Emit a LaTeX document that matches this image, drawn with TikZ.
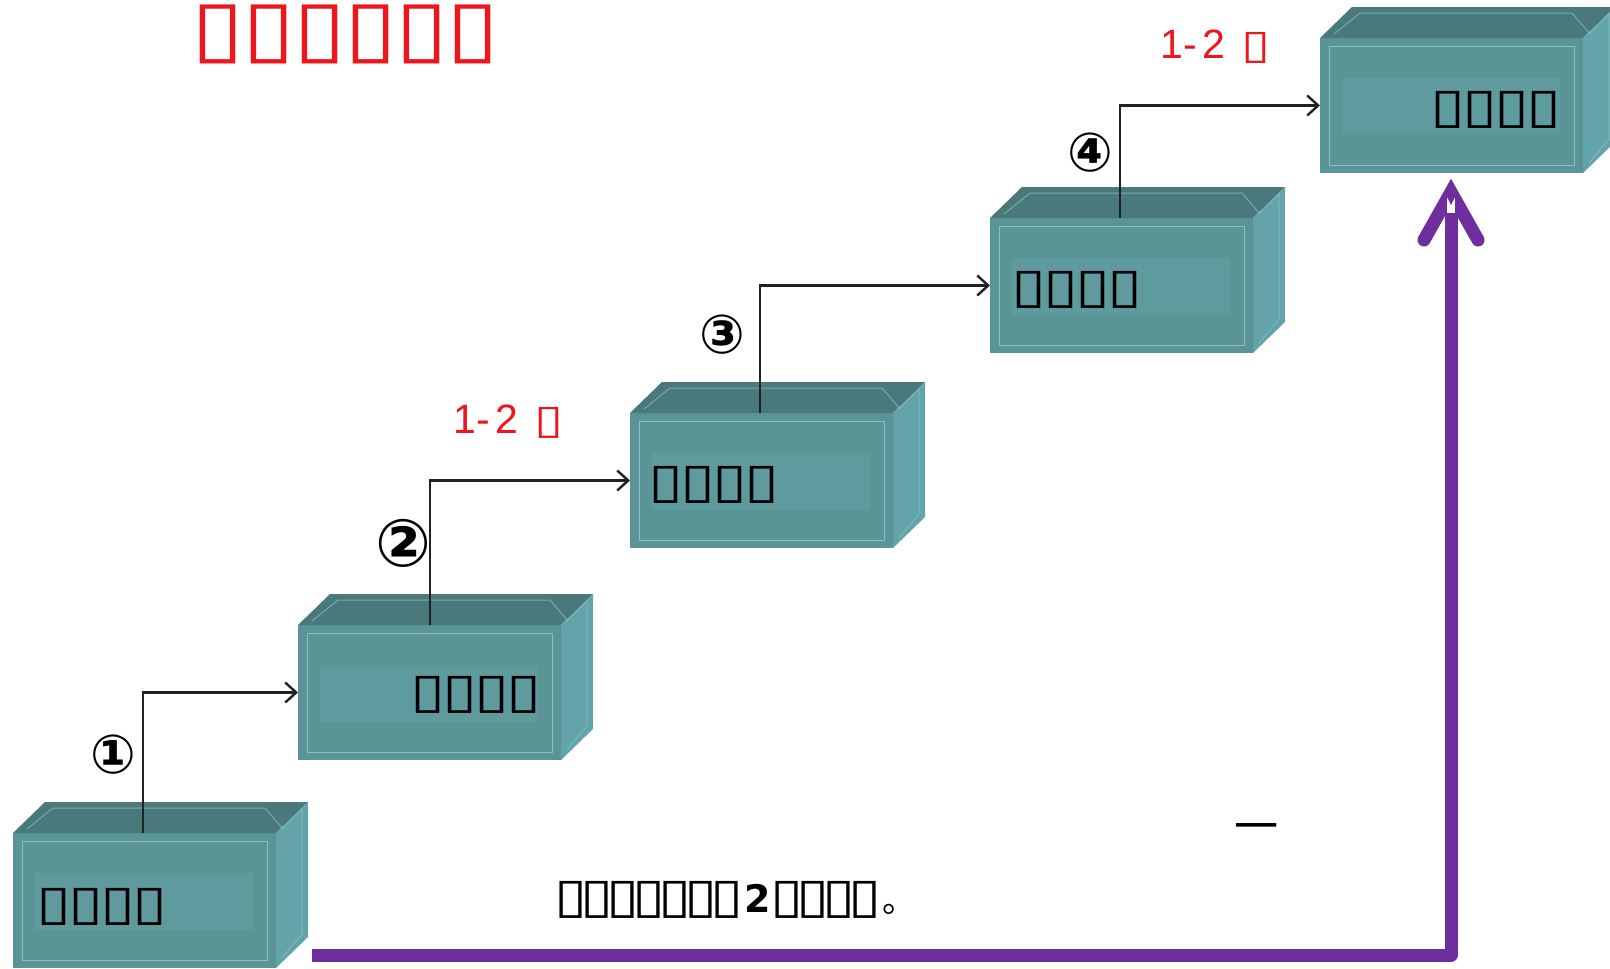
\documentclass[tikz,border=0pt]{standalone}
\usepackage{fontspec}
\setmainfont{Liberation Sans}
\newfontfamily\dvs{DejaVu Sans}
\newfontfamily\cjk{Noto Sans CJK SC}
\usetikzlibrary{arrows.meta,calc}
\definecolor{frontc}{RGB}{90,148,151}
\definecolor{topc}{RGB}{74,121,123}
\definecolor{sidec}{RGB}{98,164,169}
\definecolor{bevelc}{RGB}{135,192,195}
\definecolor{panelc}{RGB}{95,155,158}
\definecolor{purp}{RGB}{110,46,158}
\definecolor{redt}{RGB}{236,22,28}
\definecolor{linec}{RGB}{34,34,34}
% one missing-glyph box: pitch, width, total height
\newcommand\tf[3]{\makebox[#1]{\resizebox*{#2}{#3}{\dvs ▯}}}
\newcommand\lbox{\tf{32pt}{35pt}{37pt}}
\newcommand\tbox{\tf{51pt}{53pt}{59pt}}
\newcommand\nbox{\tf{26pt}{33pt}{37pt}}
\newcommand\rbox{\tf{22pt}{29pt}{31pt}}
\begin{document}
\begin{tikzpicture}[x=1pt,y=-1pt,
  front/.style={rectangle,anchor=north west,minimum width=263pt,minimum height=135pt,inner sep=0pt,outer sep=0pt,fill=frontc},
  lab/.style={anchor=west,inner sep=0pt,outer sep=0pt,text=black},
  conn/.style={draw=linec,line width=2.4pt,-{Straight Barb[length=11pt,width=20pt,line width=2.4pt]}},
  circnum/.style={inner sep=0pt,font=\dvs\bfseries\fontsize{54}{54}\selectfont},
  redlab/.style={anchor=west,inner sep=0pt,text=redt,font=\fontsize{41}{41}\selectfont},
  purpline/.style={draw=purp,line width=13pt}
]
\useasboundingbox (0,0) rectangle (1610,969);
\fill[white] (0,0) rectangle (1610,969);

% boxes (front faces)
\node[front] (b1) at (13,833) {};
\node[front] (b2) at (298,625) {};
\node[front] (b3) at (630,413) {};
\node[front] (b4) at (990,218) {};
\node[front] (b5) at (1320,38) {};

\foreach \b in {b1,b2,b3,b4,b5}{
  % top face
  \fill[topc] (\b.north west) -- ++(32,-31) -- ([shift={(32,-31)}]\b.north east) -- (\b.north east) -- cycle;
  % side face
  \fill[sidec] (\b.north east) -- ++(32,-31) -- ([shift={(32,-31)}]\b.south east) -- (\b.south east) -- cycle;
  % panel behind the label
  \fill[panelc] ([shift={(22,40)}]\b.north west) rectangle ([shift={(240,97)}]\b.north west);
  % bevel lines
  \draw[bevelc,line width=1pt] ([shift={(9,8)}]\b.north west) rectangle ([shift={(-9,-8)}]\b.south east);
  \draw[bevelc,line width=1pt,opacity=.7] ([shift={(14,-4)}]\b.north west) -- ([shift={(40,-25)}]\b.north west) -- ([shift={(252,-25)}]\b.north west) -- ([shift={(270,-4)}]\b.north west);
  \draw[bevelc,line width=1pt,opacity=.7] ([shift={(6,-4)}]\b.north east) -- ([shift={(26,-24)}]\b.north east) -- ([shift={(26,-34)}]\b.south east) -- ([shift={(6,-10)}]\b.south east);
}

% labels inside the boxes
\node[lab] (l1) at (38,907) {\lbox\lbox\lbox\lbox};
\node[lab] (l2) at (412,695) {\lbox\lbox\lbox\lbox};
\node[lab] (l3) at (650,485) {\lbox\lbox\lbox\lbox};
\node[lab] (l4) at (1013,290) {\lbox\lbox\lbox\lbox};
\node[lab] (l5) at (1432,110) {\lbox\lbox\lbox\lbox};

% connectors
\draw[conn] ([xshift=130pt]b1.north west) |- (b2.west);
\draw[conn] ([xshift=132pt]b2.north west) |- (b3.west);
\draw[conn] ([xshift=130pt]b3.north west) |- (b4.west);
\draw[conn] ([xshift=130pt]b4.north west) |- (b5.west);

% circled numbers
\node[circnum] (n1) at (113,755) {①};
\node[circnum,font=\dvs\bfseries\fontsize{66}{66}\selectfont] (n2) at (403,543) {②};
\node[circnum] (n3) at (722,335) {③};
\node[circnum] (n4) at (1090,153) {④};

% red duration labels
\node[redlab] (r1) at (453,422) {1-\hspace{6pt}2\hspace{20pt}\rbox};
\node[redlab] (r2) at (1160,47) {1-\hspace{6pt}2\hspace{20pt}\rbox};

% title
\node[lab,text=redt] (title) at (193,34) {\tbox\tbox\tbox\tbox\tbox\tbox};

% bottom note
\node[lab] (note) at (558,900) {\nbox\nbox\nbox\nbox\nbox\nbox\nbox\hspace{4pt}{\dvs\bfseries\fontsize{38}{38}\selectfont 2}\hspace{4pt}\nbox\nbox\nbox\nbox\hspace{4pt}{\cjk\fontsize{34}{34}\selectfont 。}};
\node[lab,font=\cjk\fontsize{44}{44}\selectfont] (dash) at (1234,833) {一};

% purple arrow
\coordinate (ps) at (312,955);
\coordinate (pc) at (1451,955);
\coordinate (pt) at (1451,192);
\coordinate (al) at (1424,240);
\coordinate (ar) at (1478,240);
\draw[purpline,line join=round] (ps) -- (pc) -- (pt);
\draw[purpline,line cap=round,line join=miter] (al) -- (pt) -- (ar);
\fill[white] (1447,197) rectangle (1455,213);
\fill[purp] (1447,197) -- (1455,197) -- (1451,205) -- cycle;
\end{tikzpicture}
\end{document}
